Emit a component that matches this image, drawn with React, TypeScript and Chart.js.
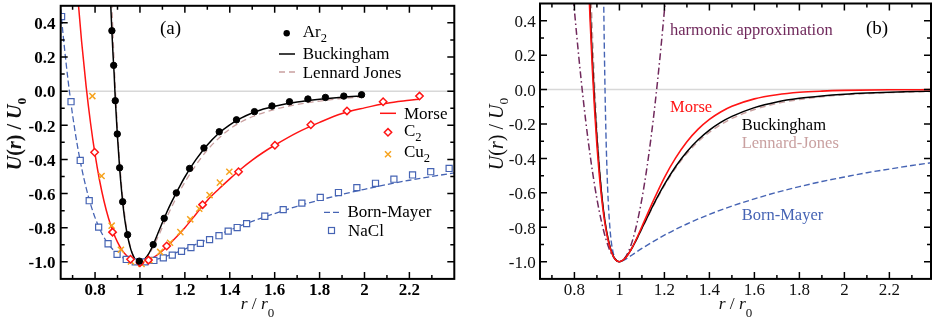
import React, { useEffect, useRef } from 'react';
import { Chart, registerables } from 'chart.js';
Chart.register(...registerables);

const FONT = '"Liberation Serif", "Times New Roman", "DejaVu Serif", serif';

const BLACK = '#000000';
const RED = '#ff1414';
const ORANGE = '#f6a31e';
const LJ_PINK = '#c9a0a0';
const BLUE = '#4664b4';
const PURPLE = '#70295c';
const ZERO_GREY = '#d8d8d8';

// ---- axes ----
const X_MIN = 0.647;
const X_MAX_A = 2.4;
const X_MAX_B = 2.385;
const Y_MIN = -1.1;
const Y_MAX = 0.5;
const X_MAJOR = [0.8, 1, 1.2, 1.4, 1.6, 1.8, 2, 2.2];
const X_MAJOR_LABELS = ['0.8', '1', '1.2', '1.4', '1.6', '1.8', '2', '2.2'];
const X_MINOR = [0.7, 0.9, 1.1, 1.3, 1.5, 1.7, 1.9, 2.1, 2.3];
const Y_MAJOR = [-1, -0.8, -0.6, -0.4, -0.2, 0, 0.2, 0.4];
const Y_MAJOR_LABELS = ['-1.0', '-0.8', '-0.6', '-0.4', '-0.2', '0.0', '0.2', '0.4'];
const Y_MINOR = [-0.9, -0.7, -0.5, -0.3, -0.1, 0.1, 0.3];

// ---- panel (a) data ----
const R_AR = [0.875, 0.883, 0.890, 0.899, 0.9095, 0.923, 0.945, 0.997, 1.059, 1.108, 1.162, 1.221, 1.285, 1.353, 1.430, 1.510, 1.588, 1.666, 1.748, 1.826, 1.908, 1.987];
const U_AR = [0.354, 0.151, -0.056, -0.251, -0.449, -0.648, -0.841, -0.996, -0.899, -0.745, -0.596, -0.453, -0.333, -0.238, -0.168, -0.120, -0.087, -0.062, -0.046, -0.037, -0.029, -0.021];

const R_C2 = [0.798, 0.878, 0.958, 1.0, 1.038, 1.119, 1.279, 1.439, 1.601, 1.761, 1.922, 2.083, 2.245];
const U_C2 = [-0.358, -0.826, -0.985, -1.005, -0.99, -0.907, -0.665, -0.472, -0.317, -0.197, -0.116, -0.062, -0.029];

const R_CU2 = [0.788, 0.829, 0.874, 0.915, 0.960, 1.007, 1.042, 1.090, 1.134, 1.180, 1.224, 1.264, 1.310, 1.356, 1.398];
const U_CU2 = [-0.029, -0.497, -0.788, -0.929, -0.998, -1.012, -0.991, -0.942, -0.888, -0.826, -0.751, -0.689, -0.609, -0.536, -0.472];

const R_NACL = [0.651, 0.693, 0.734, 0.774, 0.816, 0.858, 0.898, 0.939, 0.979, 1.022, 1.062, 1.104, 1.144, 1.185, 1.227, 1.269, 1.310, 1.352, 1.393, 1.433, 1.475, 1.556, 1.638, 1.721, 1.803, 1.884, 1.966, 2.049, 2.131, 2.214, 2.295, 2.377];
const U_NACL = [0.437, -0.062, -0.406, -0.642, -0.797, -0.894, -0.956, -0.986, -1.0, -1.0, -0.992, -0.977, -0.961, -0.938, -0.917, -0.892, -0.870, -0.847, -0.820, -0.799, -0.776, -0.733, -0.694, -0.656, -0.623, -0.594, -0.565, -0.540, -0.516, -0.491, -0.472, -0.453];

const R_BUCK_A = [0.862, 0.866, 0.870, 0.875, 0.880, 0.885, 0.890, 0.900, 0.910, 0.920, 0.930, 0.940, 0.950, 0.960, 0.970, 0.980, 0.990, 1.000, 1.020, 1.040, 1.060, 1.080, 1.100, 1.120, 1.140, 1.160, 1.180, 1.200, 1.250, 1.300, 1.350, 1.400, 1.450, 1.500, 1.550, 1.600, 1.700, 1.800, 1.900, 1.995];
const U_BUCK_A = [0.85, 0.66, 0.50, 0.35, 0.215, 0.10, -0.045, -0.27, -0.46, -0.61, -0.73, -0.815, -0.88, -0.93, -0.965, -0.987, -0.997, -1.0, -0.985, -0.95, -0.897, -0.833, -0.77, -0.708, -0.652, -0.60, -0.55, -0.503, -0.40, -0.315, -0.248, -0.197, -0.158, -0.128, -0.105, -0.088, -0.064, -0.048, -0.036, -0.028];

const R_LJ_A = [0.860, 0.870, 0.875, 0.880, 0.890, 0.900, 0.910, 0.920, 0.930, 0.940, 0.950, 0.960, 0.970, 0.980, 0.990, 1.000, 1.020, 1.040, 1.060, 1.080, 1.100, 1.120, 1.150, 1.200, 1.250, 1.300, 1.350, 1.400, 1.450, 1.500, 1.600, 1.700, 1.800, 1.900, 1.995];
const U_LJ_A = [1.166, 0.706, 0.508, 0.330, 0.025, -0.223, -0.421, -0.579, -0.702, -0.798, -0.870, -0.923, -0.960, -0.983, -0.996, -1.0, -0.987, -0.956, -0.910, -0.855, -0.797, -0.738, -0.655, -0.533, -0.432, -0.345, -0.277, -0.222, -0.181, -0.150, -0.107, -0.078, -0.058, -0.043, -0.033];

const R_MORSE_A = [0.70, 0.72, 0.74, 0.76, 0.78, 0.80, 0.82, 0.84, 0.86, 0.88, 0.90, 0.92, 0.94, 0.96, 0.98, 1.00, 1.04, 1.08, 1.12, 1.16, 1.20, 1.25, 1.30, 1.35, 1.40, 1.45, 1.50, 1.55, 1.60, 1.70, 1.80, 1.90, 2.00, 2.10, 2.20, 2.245];
const U_MORSE_A = [0.964, 0.600, 0.292, 0.031, -0.188, -0.371, -0.522, -0.645, -0.745, -0.824, -0.885, -0.931, -0.963, -0.985, -0.996, -1.0, -0.988, -0.957, -0.911, -0.858, -0.800, -0.720, -0.640, -0.575, -0.514, -0.456, -0.404, -0.358, -0.317, -0.243, -0.183, -0.131, -0.098, -0.071, -0.054, -0.047];

const R_BM_A = [0.64, 0.65, 0.66, 0.67, 0.68, 0.69, 0.70, 0.72, 0.74, 0.76, 0.78, 0.80, 0.82, 0.85, 0.90, 0.95, 1.00, 1.05, 1.10, 1.15, 1.20, 1.30, 1.40, 1.50, 1.60, 1.70, 1.80, 1.90, 2.00, 2.10, 2.20, 2.30, 2.40];
const U_BM_A = [0.587, 0.438, 0.301, 0.176, 0.061, -0.043, -0.140, -0.309, -0.449, -0.565, -0.662, -0.741, -0.805, -0.878, -0.954, -0.990, -1.0, -0.993, -0.975, -0.952, -0.925, -0.869, -0.814, -0.763, -0.717, -0.675, -0.638, -0.605, -0.575, -0.547, -0.522, -0.500, -0.479];

// ---- panel (b) data ----
const R_MORSE_B = [0.86, 0.865, 0.87, 0.88, 0.89, 0.90, 0.91, 0.92, 0.93, 0.94, 0.95, 0.96, 0.97, 0.98, 0.99, 1.0, 1.02, 1.04, 1.06, 1.08, 1.10, 1.12, 1.15, 1.20, 1.25, 1.30, 1.35, 1.40, 1.45, 1.50, 1.60, 1.70, 1.80, 1.90, 2.00, 2.20, 2.40];
const U_MORSE_B = [0.733, 0.557, 0.396, 0.112, -0.126, -0.324, -0.487, -0.620, -0.728, -0.812, -0.878, -0.926, -0.961, -0.984, -0.996, -1.0, -0.987, -0.955, -0.909, -0.855, -0.796, -0.737, -0.648, -0.511, -0.397, -0.303, -0.230, -0.173, -0.130, -0.097, -0.054, -0.030, -0.016, -0.009, -0.005, -0.0015, -0.0005];

const R_LJ_B = [0.85, 0.86, 0.87, 0.875, 0.88, 0.89, 0.90, 0.91, 0.92, 0.93, 0.94, 0.95, 0.96, 0.97, 0.98, 0.99, 1.0, 1.02, 1.04, 1.06, 1.08, 1.10, 1.12, 1.15, 1.20, 1.25, 1.30, 1.35, 1.40, 1.45, 1.50, 1.60, 1.70, 1.80, 1.90, 2.00, 2.10, 2.20, 2.30, 2.40];
const U_LJ_B = [1.727, 1.166, 0.706, 0.508, 0.330, 0.025, -0.223, -0.421, -0.579, -0.702, -0.798, -0.870, -0.923, -0.960, -0.983, -0.996, -1.0, -0.987, -0.956, -0.913, -0.863, -0.810, -0.757, -0.678, -0.558, -0.456, -0.371, -0.303, -0.248, -0.204, -0.168, -0.116, -0.081, -0.058, -0.042, -0.031, -0.023, -0.018, -0.014, -0.011];

const R_BUCK_B = [0.858, 0.862, 0.866, 0.870, 0.875, 0.880, 0.890, 0.900, 0.910, 0.920, 0.930, 0.940, 0.950, 0.960, 0.970, 0.980, 0.990, 1.0, 1.02, 1.04, 1.06, 1.08, 1.10, 1.12, 1.15, 1.20, 1.25, 1.30, 1.35, 1.40, 1.45, 1.50, 1.60, 1.70, 1.80, 1.90, 2.00, 2.10, 2.20, 2.30, 2.40];
const U_BUCK_B = [0.95, 0.78, 0.62, 0.47, 0.31, 0.17, -0.08, -0.28, -0.45, -0.595, -0.71, -0.80, -0.868, -0.921, -0.958, -0.983, -0.996, -1.0, -0.987, -0.955, -0.911, -0.860, -0.806, -0.752, -0.672, -0.551, -0.447, -0.361, -0.292, -0.236, -0.191, -0.156, -0.105, -0.072, -0.051, -0.037, -0.027, -0.020, -0.015, -0.011, -0.009];

const R_BM_B = [0.925, 0.93, 0.935, 0.94, 0.945, 0.95, 0.96, 0.97, 0.98, 0.99, 1.0, 1.01, 1.02, 1.04, 1.06, 1.1, 1.2, 1.3, 1.4, 1.5, 1.6, 1.7, 1.8, 1.9, 2.0, 2.1, 2.2, 2.3, 2.4];
const U_BM_B = [1.162, 0.529, 0.075, -0.249, -0.478, -0.642, -0.838, -0.934, -0.978, -0.996, -1.0, -0.997, -0.991, -0.975, -0.958, -0.923, -0.846, -0.781, -0.725, -0.677, -0.635, -0.597, -0.564, -0.534, -0.508, -0.483, -0.462, -0.441, -0.423];

const R_HARM_B = [0.79, 0.80, 0.82, 0.84, 0.86, 0.88, 0.90, 0.92, 0.94, 0.96, 0.98, 1.0, 1.02, 1.04, 1.06, 1.08, 1.10, 1.12, 1.14, 1.16, 1.18, 1.20, 1.21];
const U_HARM_B = [0.610, 0.460, 0.183, -0.066, -0.285, -0.474, -0.635, -0.766, -0.869, -0.942, -0.985, -1.0, -0.985, -0.942, -0.869, -0.766, -0.635, -0.474, -0.285, -0.066, 0.183, 0.460, 0.610];

// ---- helpers ----
const pts = (xs: number[], ys: number[]) => xs.map((x, i) => ({ x, y: ys[i] }));

const lineDs = (xs: number[], ys: number[], color: string, width: number, dash: number[], order: number) => ({
  data: pts(xs, ys),
  showLine: true,
  borderColor: color,
  backgroundColor: color,
  borderWidth: width,
  borderDash: dash,
  pointRadius: 0,
  pointHoverRadius: 0,
  fill: false,
  cubicInterpolationMode: 'monotone',
  capBezierPoints: false,
  clip: 0,
  order,
});

const markerDs = (xs: number[], ys: number[], style: string, radius: number, color: string, fill: string, bw: number) => ({
  data: pts(xs, ys),
  showLine: false,
  pointStyle: style,
  pointRadius: radius,
  pointHoverRadius: radius,
  borderColor: color,
  backgroundColor: fill,
  pointBorderColor: color,
  pointBackgroundColor: fill,
  pointBorderWidth: bw,
  clip: 0,
  order: 0,
});

type Part = { t: string; italic?: boolean; bold?: boolean; size?: number; dy?: number };

function rich(ctx: CanvasRenderingContext2D, x: number, y: number, parts: Part[], size: number, color: string, align = 'left') {
  const fonts = parts.map(p => `${p.italic ? 'italic ' : ''}${p.bold ? 'bold ' : ''}${p.size || size}px ${FONT}`);
  let total = 0;
  parts.forEach((p, i) => { ctx.font = fonts[i]; total += ctx.measureText(p.t).width; });
  let cx = align === 'center' ? x - total / 2 : align === 'right' ? x - total : x;
  ctx.fillStyle = color;
  ctx.textAlign = 'left';
  ctx.textBaseline = 'alphabetic';
  parts.forEach((p, i) => {
    ctx.font = fonts[i];
    ctx.fillText(p.t, cx, y + (p.dy || 0));
    cx += ctx.measureText(p.t).width;
  });
}

function hline(ctx: CanvasRenderingContext2D, x1: number, x2: number, y: number, color: string, w: number, dash: number[]) {
  ctx.save();
  ctx.strokeStyle = color; ctx.lineWidth = w; ctx.setLineDash(dash);
  ctx.beginPath(); ctx.moveTo(x1, y); ctx.lineTo(x2, y); ctx.stroke();
  ctx.restore();
}

function makeDecor(opts: {
  bold: boolean;
  yLabelRight: number;
  yTitleX: number;
  yTitleY: number;
  titleBold: boolean;
  legend: (ctx: CanvasRenderingContext2D) => void;
}) {
  return {
    id: 'decor',
    beforeDatasetsDraw(chart: any) {
      const { ctx, chartArea: a, scales } = chart;
      const y0 = scales.y.getPixelForValue(0);
      ctx.save();
      ctx.strokeStyle = ZERO_GREY; ctx.lineWidth = 1.5;
      ctx.beginPath(); ctx.moveTo(a.left, y0); ctx.lineTo(a.right, y0); ctx.stroke();
      ctx.restore();
    },
    afterDraw(chart: any) {
      const { ctx, chartArea: a, scales } = chart;
      const x = scales.x, y = scales.y;
      ctx.save();
      ctx.strokeStyle = '#000';
      ctx.lineWidth = 1.5;
      ctx.beginPath();
      const xt = (vals: number[], len: number) => vals.forEach(v => {
        const p = x.getPixelForValue(v);
        ctx.moveTo(p, a.bottom); ctx.lineTo(p, a.bottom - len);
        ctx.moveTo(p, a.top); ctx.lineTo(p, a.top + len);
      });
      const yt = (vals: number[], len: number) => vals.forEach(v => {
        const p = y.getPixelForValue(v);
        ctx.moveTo(a.left, p); ctx.lineTo(a.left + len, p);
        ctx.moveTo(a.right, p); ctx.lineTo(a.right - len, p);
      });
      xt(X_MAJOR, 7); xt(X_MINOR, 4); yt(Y_MAJOR, 7); yt(Y_MINOR, 4);
      ctx.stroke();
      ctx.lineWidth = 2;
      ctx.strokeRect(a.left, a.top, a.right - a.left, a.bottom - a.top);

      // tick labels
      const col = opts.bold ? '#000' : '#111';
      ctx.fillStyle = col;
      ctx.font = `${opts.bold ? 'bold ' : ''}17px ${FONT}`;
      ctx.textBaseline = 'alphabetic';
      ctx.textAlign = 'center';
      X_MAJOR.forEach((v, i) => ctx.fillText(X_MAJOR_LABELS[i], x.getPixelForValue(v), 295));
      ctx.textAlign = 'right';
      Y_MAJOR.forEach((v, i) => ctx.fillText(Y_MAJOR_LABELS[i], opts.yLabelRight, y.getPixelForValue(v) + 6.3));

      // x title
      rich(ctx, (a.left + a.right) / 2, 309, [
        { t: 'r', italic: true }, { t: ' / ' }, { t: 'r', italic: true }, { t: '0', size: 13, dy: 8 },
      ], 17.5, '#111', 'center');

      // y title
      ctx.save();
      ctx.translate(opts.yTitleX, opts.yTitleY);
      ctx.rotate(-Math.PI / 2);
      const b = opts.titleBold;
      rich(ctx, 0, 0, [
        { t: 'U', italic: true, bold: b }, { t: '(', bold: b }, { t: 'r', italic: true, bold: b }, { t: ') / ', bold: b },
        { t: 'U', italic: true, bold: b }, { t: '0', size: 13.5, dy: 5, bold: b },
      ], 20, '#111', 'center');
      ctx.restore();

      opts.legend(ctx);
      ctx.restore();
    },
  };
}

function legendA(ctx: CanvasRenderingContext2D) {
  const S = 17;
  // Ar2
  ctx.save();
  ctx.fillStyle = BLACK;
  ctx.beginPath(); ctx.arc(286.7, 33.3, 3.2, 0, Math.PI * 2); ctx.fill();
  ctx.restore();
  rich(ctx, 302.7, 36.7, [{ t: 'Ar' }, { t: '2', size: 12.5, dy: 5.5 }], S, BLACK);
  hline(ctx, 279, 295, 54, BLACK, 1.5, []);
  rich(ctx, 302.7, 59.3, [{ t: 'Buckingham' }], S, BLACK);
  hline(ctx, 279, 295, 72, LJ_PINK, 1.3, [6, 4]);
  rich(ctx, 302.7, 77.7, [{ t: 'Lennard Jones' }], S, BLACK);

  hline(ctx, 380, 396, 113.3, RED, 1.5, []);
  rich(ctx, 404, 119, [{ t: 'Morse' }], S, BLACK);
  ctx.save();
  ctx.strokeStyle = RED; ctx.fillStyle = '#fff'; ctx.lineWidth = 1.5;
  ctx.beginPath();
  ctx.moveTo(388 - 3.7, 132.3); ctx.lineTo(388, 132.3 - 3.7); ctx.lineTo(388 + 3.7, 132.3); ctx.lineTo(388, 132.3 + 3.7); ctx.closePath();
  ctx.fill(); ctx.stroke();
  ctx.restore();
  rich(ctx, 404, 135.7, [{ t: 'C' }, { t: '2', size: 12.5, dy: 5 }], S, BLACK);
  ctx.save();
  ctx.strokeStyle = ORANGE; ctx.lineWidth = 1.5;
  ctx.beginPath();
  ctx.moveTo(385, 151.3); ctx.lineTo(391, 157.3); ctx.moveTo(391, 151.3); ctx.lineTo(385, 157.3);
  ctx.stroke();
  ctx.restore();
  rich(ctx, 404, 157.3, [{ t: 'Cu' }, { t: '2', size: 12.5, dy: 5 }], S, BLACK);

  hline(ctx, 324, 340, 212.3, BLUE, 1.3, [6, 3]);
  rich(ctx, 347.5, 217.3, [{ t: 'Born-Mayer' }], S, BLACK);
  ctx.save();
  ctx.strokeStyle = BLUE; ctx.lineWidth = 1.2;
  ctx.strokeRect(331.5 - 3, 230.5 - 3, 6, 6);
  ctx.restore();
  rich(ctx, 348, 235.7, [{ t: 'NaCl' }], S, BLACK);

  rich(ctx, 160, 33.5, [{ t: '(a)' }], 19, BLACK);
}

function legendB(ctx: CanvasRenderingContext2D) {
  const S = 16.5;
  rich(ctx, 204, 35, [{ t: 'harmonic approximation' }], S, PURPLE);
  rich(ctx, 400, 34, [{ t: '(b)' }], 19, BLACK);
  rich(ctx, 204, 112.3, [{ t: 'Morse' }], S, RED);
  rich(ctx, 275.7, 130, [{ t: 'Buckingham' }], S, BLACK);
  rich(ctx, 275.7, 147.7, [{ t: 'Lennard-Jones' }], S, LJ_PINK);
  rich(ctx, 275.7, 220, [{ t: 'Born-Mayer' }], S, BLUE);
}

function baseOptions(xMax: number, padding: any) {
  return {
    animation: false,
    responsive: false,
    maintainAspectRatio: false,
    events: [],
    layout: { padding },
    plugins: { legend: { display: false }, tooltip: { enabled: false } },
    scales: {
      x: { type: 'linear', display: false, min: X_MIN, max: xMax },
      y: { type: 'linear', display: false, min: Y_MIN, max: Y_MAX },
    },
  };
}

function configA(): any {
  return {
    type: 'scatter',
    data: {
      datasets: [
        markerDs(R_AR, U_AR, 'circle', 3.2, BLACK, BLACK, 1),
        markerDs(R_C2, U_C2, 'rectRot', 3.7, RED, '#ffffff', 1.5),
        markerDs(R_CU2, U_CU2, 'crossRot', 4.3, ORANGE, ORANGE, 1.5),
        markerDs(R_NACL, U_NACL, 'rect', 4.3, BLUE, '#ffffff', 1.2),
        lineDs(R_BUCK_A, U_BUCK_A, BLACK, 1.5, [], 1),
        lineDs(R_LJ_A, U_LJ_A, LJ_PINK, 1.3, [6, 4], 2),
        lineDs(R_MORSE_A, U_MORSE_A, RED, 1.5, [], 1),
        lineDs(R_BM_A, U_BM_A, BLUE, 1.3, [6, 3], 2),
      ],
    },
    options: baseOptions(X_MAX_A, { left: 60.7, right: 11.7, top: 3.5, bottom: 47.1 }),
    plugins: [makeDecor({ bold: true, yLabelRight: 55.5, yTitleX: 20.5, yTitleY: 134, titleBold: true, legend: legendA })],
  };
}

function configB(): any {
  return {
    type: 'scatter',
    data: {
      datasets: [
        lineDs(R_MORSE_B, U_MORSE_B, RED, 1.6, [], 1),
        lineDs(R_BUCK_B, U_BUCK_B, BLACK, 1.5, [], 2),
        lineDs(R_LJ_B, U_LJ_B, LJ_PINK, 1.4, [6, 4], 3),
        lineDs(R_BM_B, U_BM_B, BLUE, 1.4, [6, 3], 2),
        lineDs(R_HARM_B, U_HARM_B, PURPLE, 1.5, [7, 3, 1.5, 3], 2),
      ],
    },
    options: baseOptions(X_MAX_B, { left: 74, right: 1, top: 3.5, bottom: 47.1 }),
    plugins: [makeDecor({ bold: false, yLabelRight: 69.7, yTitleX: 37, yTitleY: 134, titleBold: false, legend: legendB })],
  };
}

export default function App() {
  const refA = useRef<HTMLCanvasElement>(null);
  const refB = useRef<HTMLCanvasElement>(null);
  useEffect(() => {
    const a = new Chart(refA.current as HTMLCanvasElement, configA());
    const b = new Chart(refB.current as HTMLCanvasElement, configB());
    return () => { a.destroy(); b.destroy(); };
  }, []);
  return (
    <div style={{ position: 'absolute', left: 0, top: 0, width: 932, height: 326, overflow: 'hidden', background: '#fff' }}>
      <canvas ref={refA} width={466} height={326} style={{ position: 'absolute', left: 0, top: 0, width: 466, height: 326 }} />
      <canvas ref={refB} width={466} height={326} style={{ position: 'absolute', left: 466, top: 0, width: 466, height: 326 }} />
    </div>
  );
}
